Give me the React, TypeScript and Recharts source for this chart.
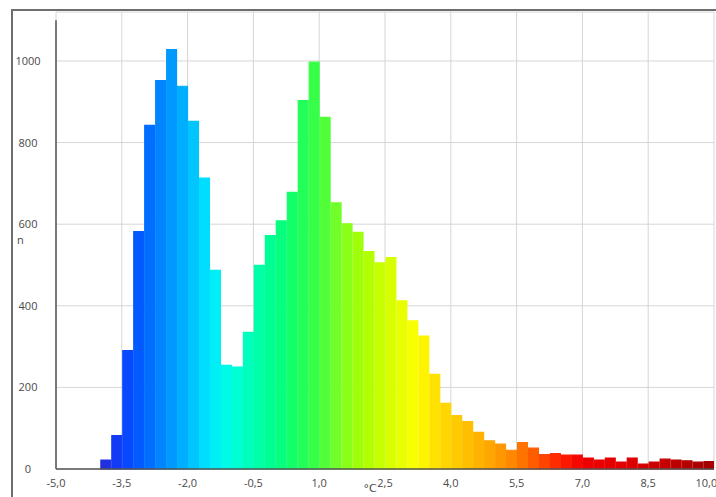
import { Bar, BarChart, CartesianGrid, Cell, ReferenceLine, XAxis, YAxis } from "recharts";

// histogram bins, 0.25 °C wide, lower edges
const binStart = [
  -5, -4.75, -4.5, -4.25, -4, -3.75, -3.5, -3.25, -3, -2.75,
  -2.5, -2.25, -2, -1.75, -1.5, -1.25, -1, -0.75, -0.5, -0.25,
  0, 0.25, 0.5, 0.75, 1, 1.25, 1.5, 1.75, 2, 2.25,
  2.5, 2.75, 3, 3.25, 3.5, 3.75, 4, 4.25, 4.5, 4.75,
  5, 5.25, 5.5, 5.75, 6, 6.25, 6.5, 6.75, 7, 7.25,
  7.5, 7.75, 8, 8.25, 8.5, 8.75, 9, 9.25, 9.5, 9.75,
];

const counts = [
  0, 0, 0, 0, 22, 82, 290, 582, 842, 952,
  1028, 938, 852, 713, 487, 254, 250, 335, 499, 572,
  608, 678, 903, 997, 862, 652, 601, 580, 533, 505,
  518, 412, 363, 326, 232, 161, 131, 116, 90, 69,
  61, 46, 65, 51, 35, 38, 34, 34, 27, 22,
  27, 17, 27, 12, 17, 24, 22, 20, 17, 18,
];

const BIN = 0.25;
const xTicks = [-5, -3.5, -2, -0.5, 1, 2.5, 4, 5.5, 7, 8.5, 10];
const yTicks = [0, 200, 400, 600, 800, 1000];

// colour scale by temperature
const colorStops: [number, string][] = [
  [-4, "#2a2ad6"],
  [-3.5, "#0a40ff"],
  [-3, "#0062ff"],
  [-2.5, "#0090ff"],
  [-2, "#00b8ff"],
  [-1.5, "#00eaff"],
  [-1, "#00ffe0"],
  [-0.5, "#00ffb0"],
  [0, "#00ff88"],
  [0.5, "#18ff60"],
  [1, "#40ff40"],
  [1.5, "#80ff20"],
  [2, "#a8ff00"],
  [2.5, "#d0ff00"],
  [3.25, "#ffff00"],
  [3.5, "#ffe800"],
  [4, "#ffd000"],
  [4.5, "#ffb800"],
  [5, "#ffa000"],
  [5.5, "#ff8000"],
  [6, "#ff5000"],
  [6.5, "#ff2000"],
  [7, "#f00000"],
  [8, "#e00000"],
  [9, "#c00000"],
  [10, "#a00000"],
];

function hex(c: string) {
  return [1, 3, 5].map((i) => parseInt(c.slice(i, i + 2), 16));
}

function colorAt(t: number) {
  if (t <= colorStops[0][0]) return colorStops[0][1];
  for (let i = 1; i < colorStops.length; i++) {
    const [t1, c1] = colorStops[i];
    if (t <= t1) {
      const [t0, c0] = colorStops[i - 1];
      const f = (t - t0) / (t1 - t0);
      const a = hex(c0);
      const b = hex(c1);
      const rgb = a.map((v, k) => Math.round(v + (b[k] - v) * f));
      return `rgb(${rgb.join(",")})`;
    }
  }
  return colorStops[colorStops.length - 1][1];
}

const data = binStart.map((start, i) => ({ mid: start + BIN / 2, n: counts[i] }));

const font = "'Open Sans', 'DejaVu Sans', sans-serif";
const textColor = "#4a4a4a";
const W = 716;
const H = 497;
const M = { top: 12, right: 2, bottom: 0, left: 0 };
const Y_W = 56;
const plotW = W - M.left - M.right - Y_W;

const fmt = (v: number) => v.toFixed(1).replace(".", ",");

export default function App() {
  return (
    <div style={{ position: "absolute", left: 0, top: 0, width: W, height: H, background: "#fff" }}>
      <div
        style={{
          position: "absolute",
          left: 11,
          top: 9,
          width: W - 11,
          height: H - 9,
          borderTop: "2px solid #6e6e6e",
          borderLeft: "2px solid #6e6e6e",
          boxSizing: "border-box",
        }}
      />
      <div style={{ position: "absolute", left: 0, top: 0 }}>
        <BarChart width={W} height={H} data={data} margin={M} barCategoryGap={0} barGap={0}>
          <CartesianGrid stroke="#d6d6d6" />
          <XAxis
            dataKey="mid"
            type="number"
            domain={[-5, 10]}
            ticks={xTicks}
            tickFormatter={fmt}
            allowDataOverflow
            height={28}
            tickLine={false}
            axisLine={{ stroke: "#555", strokeWidth: 1.5 }}
            tick={{ fontSize: 11, fill: textColor, fontFamily: font }}
            tickMargin={4}
            label={{ value: "°C", position: "insideBottom", dx: -15, fontSize: 11, fill: textColor, fontFamily: "'DejaVu Sans', sans-serif" }}
          />
          <YAxis
            domain={[0, 1120]}
            ticks={yTicks}
            width={Y_W}
            axisLine={false}
            tickLine={false}
            tick={(p: any) => (
              <text x={28} y={p.y} dy={4} textAnchor="middle" fontSize={11} fill={textColor} fontFamily={font}>
                {p.payload.value}
              </text>
            )}
            label={{ value: "n", position: "insideLeft", dx: 12, fontSize: 11, fill: textColor, fontFamily: font }}
          />
          <ReferenceLine
            segment={[{ x: -5, y: 0 }, { x: -5, y: 1100 }]}
            stroke="#555"
            strokeWidth={1.5}
            ifOverflow="visible"
          />
          <Bar dataKey="n" barSize={(plotW * BIN) / 15} isAnimationActive={false}>
            {data.map((d, i) => (
              <Cell key={i} fill={colorAt(d.mid)} stroke={colorAt(d.mid)} strokeWidth={1.2} />
            ))}
          </Bar>
        </BarChart>
      </div>
    </div>
  );
}
